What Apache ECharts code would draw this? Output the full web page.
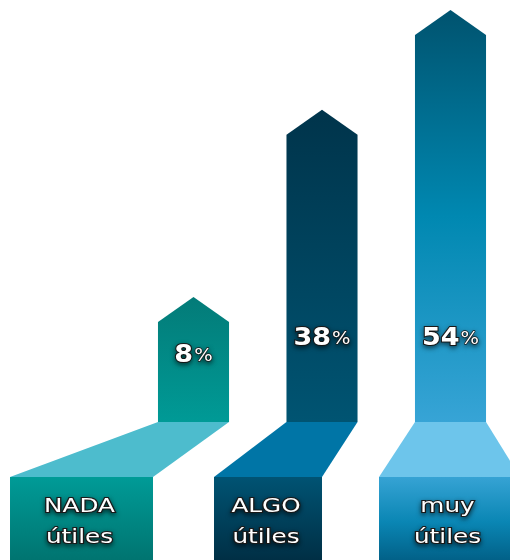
<!DOCTYPE html>
<html><head><meta charset="utf-8">
<script src="https://cdn.jsdelivr.net/npm/echarts@6/dist/echarts.min.js"></script>
<style>html,body{margin:0;padding:0;background:#fff}#c{width:510px;height:560px}</style>
</head><body><div id="c"></div>
<script>
// ---- data ----
const categories = ['NADA', 'ALGO', 'muy'];
const subLabels = ['útiles', 'útiles', 'útiles'];
const values = [8, 38, 54];
const valueSuffix = '%';

// ---- styles / layout (not data) ----
const Y_MIN = -8, Y_MAX = 58;
const X_MIN = -0.502, X_MAX = 2.463;
const HEAD_H = 25;          // arrow head height (px)
const FOOT_H = 55;          // perspective connector height (px)
const BOX_H = 90;           // label box height (px)
const BAR_FRAC = 0.553;     // bar width as fraction of one category step
const boxSpans = [[-183.5, -40.5], [-108, 0], [-71.5, 69.5]]; // box left/right relative to bar centre (px)
const barGrad = [
  [[0, '#037b78'], [1, '#009a96']],
  [[0, '#00344b'], [1, '#005472']],
  [[0, '#00536f'], [0.5, '#0088b1'], [1, '#37a4d6']]
];
const footColors = ['#4dbccd', '#0075a6', '#6dc5eb'];
const boxGrad = [
  [[0, '#009b97'], [1, '#00716d']],
  [[0, '#005373'], [1, '#002c41']],
  [[0, '#36a3d4'], [0.5, '#0a86b4'], [1, '#005a80']]
];
const FONT = '"DejaVu Sans", "Noto Sans", sans-serif';
const txtFx = {
  stroke: '#1c1c1c', lineWidth: 2,
  textShadowColor: 'rgba(0,0,0,0.5)', textShadowBlur: 5, textShadowOffsetY: 2
};

const chart = echarts.init(document.getElementById('c'), null, {renderer: 'canvas'});

function grad(stops) {
  return new echarts.graphic.LinearGradient(0, 0, 0, 1, stops.map(s => ({offset: s[0], color: s[1]})));
}

function renderItem(params, api) {
  const i = api.value(0);
  const v = api.value(1);
  const top = api.coord([i, v]);
  const base = api.coord([i, Y_MIN]);
  const bw = api.size([1, 0])[0] * BAR_FRAC;
  const cx = top[0], l = cx - bw / 2, r = cx + bw / 2;
  const by = base[1], ty = top[1];
  const span = boxSpans[i];
  const boxTop = by + FOOT_H;
  const labelY = Math.max(by - 84, ty + 33);
  return {
    type: 'group',
    children: [
      {
        type: 'polygon',
        shape: {points: [[l, by], [r, by], [cx + span[1], boxTop], [cx + span[0], boxTop]]},
        style: {fill: footColors[i]}
      },
      {
        type: 'rect',
        shape: {x: cx + span[0], y: boxTop, width: span[1] - span[0], height: BOX_H},
        style: {fill: grad(boxGrad[i])}
      },
      {
        type: 'polygon',
        shape: {points: [[l, by], [l, ty], [cx, ty - HEAD_H], [r, ty], [r, by]]},
        style: {fill: grad(barGrad[i])}
      },
      {
        type: 'text',
        x: cx + (span[0] + span[1]) / 2 - 2, y: boxTop + 46,
        scaleX: 1.3,
        style: Object.assign({
          text: categories[i] + '\n' + subLabels[i],
          fill: '#fff', font: '400 19px ' + FONT, lineHeight: 31,
          align: 'center', verticalAlign: 'middle'
        }, txtFx)
      },
      {
        type: 'text',
        x: cx, y: labelY,
        scaleX: 1.08,
        style: {
          text: '{n|' + values[i] + '}{p|' + valueSuffix + '}',
          align: 'center', verticalAlign: 'middle',
          rich: {
            n: Object.assign({fill: '#fff', font: '700 25px ' + FONT}, txtFx),
            p: Object.assign({fill: '#fff', font: '400 18px ' + FONT, padding: [3, 0, 0, 1]}, txtFx, {lineWidth: 1.4})
          }
        }
      }
    ]
  };
}

chart.setOption({
  animation: false,
  grid: {left: 129, right: 0, top: 10, bottom: 138, containLabel: false},
  xAxis: {type: 'value', min: X_MIN, max: X_MAX, show: false},
  yAxis: {type: 'value', min: Y_MIN, max: Y_MAX, show: false},
  series: [{
    type: 'custom',
    renderItem: renderItem,
    clip: false,
    data: values.map((v, i) => [i, v])
  }]
});
</script>
</body></html>
